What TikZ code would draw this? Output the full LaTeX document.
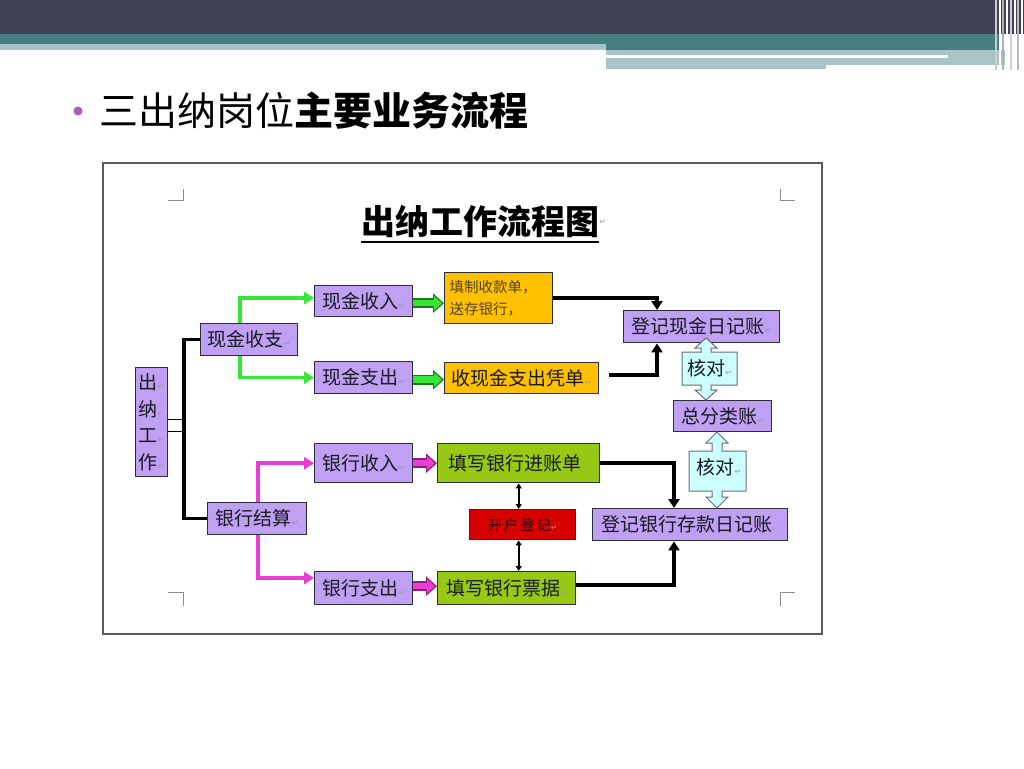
\documentclass[tikz,border=0pt]{standalone}
\usepackage{fontspec}
\setmainfont{Noto Sans CJK SC}
\newfontfamily\dejavu{DejaVu Sans}
\usetikzlibrary{arrows.meta,calc}
\definecolor{darkbar}{RGB}{66,66,86}
\definecolor{tealc}{RGB}{69,127,130}
\definecolor{lightc}{RGB}{168,196,198}
\definecolor{bulletc}{RGB}{166,95,180}
\definecolor{purp}{RGB}{192,160,242}
\definecolor{yel}{RGB}{255,192,0}
\definecolor{grn}{RGB}{150,200,20}
\definecolor{redc}{RGB}{214,0,0}
\definecolor{cyanc}{RGB}{204,255,255}
\definecolor{bord}{RGB}{45,45,60}
\definecolor{txt}{RGB}{25,25,35}
\definecolor{gline}{RGB}{55,230,55}
\definecolor{gdark}{RGB}{30,120,30}
\definecolor{mline}{RGB}{235,60,215}
\definecolor{mdark}{RGB}{140,30,130}
\definecolor{retgray}{RGB}{160,150,170}
\definecolor{framec}{RGB}{90,90,90}
\definecolor{cornerc}{RGB}{140,140,140}
\newcommand\retmark{{\dejavu\fontsize{8}{8}\selectfont\color{retgray}↵}}
\newcommand\bxfont{\fontsize{19}{22}\selectfont}
\tikzset{
  pbox/.style={draw=bord, line width=1.4pt, fill=purp, inner sep=0pt, anchor=north west, font=\bxfont, text=txt},
  ybox/.style={pbox, fill=yel},
  gbox/.style={pbox, fill=grn},
  rbox/.style={pbox, fill=redc},
  blk/.style={line width=3.5pt, black},
  barr/.style={line width=3.5pt, black, -{Triangle[length=9pt,width=11pt]}},
  garr/.style={line width=3.5pt, gline, -{Triangle[length=10pt,width=12pt]}},
  marr/.style={line width=3.5pt, mline, -{Triangle[length=10pt,width=12pt]}},
  fatgo/.style={line width=10pt, gdark, -{Triangle[length=11pt,width=19pt]}},
  fatgi/.style={line width=6.5pt, gline, shorten >=2pt, -{Triangle[length=8pt,width=14pt]}},
  fatmo/.style={line width=10pt, mdark, -{Triangle[length=11pt,width=19pt]}},
  fatmi/.style={line width=6.5pt, mline, shorten >=2pt, -{Triangle[length=8pt,width=14pt]}},
  dbl/.style={line width=2pt, black, {Triangle[length=5pt,width=6pt]}-{Triangle[length=5pt,width=6pt]}},
  cyanshape/.style={fill=cyanc, draw=bord!70, line width=1pt},
  corner/.style={cornerc, line width=1pt},
}
\begin{document}
\begin{tikzpicture}[x=1pt,y=-1pt]
\useasboundingbox (0,0) rectangle (1024,768);
\fill[white] (0,0) rectangle (1024,768);
% header bands
\fill[darkbar] (0,0) rectangle (1024,34);
\fill[tealc] (0,34) rectangle (606,44);
\fill[lightc] (0,44) rectangle (606,50);
\fill[tealc] (606,34) rectangle (1000,50);
\fill[lightc] (606,50) rectangle (1000,69);
\fill[white] (606,55) rectangle (948,58);
\fill[white] (826,65) rectangle (1000,70);
\fill[lightc] (948,50) rectangle (1005,65);
\foreach \xx/\cc in {995/gray!40,999/white,1002/gray!60,1006/white,1010/gray!35,1014/white,1017/gray!55,1021/white}
  \fill[\cc] (\xx,0) rectangle ++(2,70);
% title
\fill[bulletc] (78,111) circle (4.5);
\node[anchor=west, inner sep=0pt, font=\fontsize{39}{44}\selectfont, text=black] (heading) at (99,111) {三出纳岗位\textbf{主要业务流程}};
% frame
\draw[framec, line width=1.6pt] (103,163) rectangle (822,634);
\draw[corner] (168,200) -- (183,200) -- (183,189);
\draw[corner] (780,189) -- (780,200) -- (795,200);
\draw[corner] (168,592) -- (183,592) -- (183,606);
\draw[corner] (795,592) -- (780,592) -- (780,606);
% diagram title
\node[inner sep=0pt, font=\fontsize{34}{38}\selectfont\bfseries, text=black] (dtitle) at (480,222) {出纳工作流程图};
\draw[black, line width=2pt] (dtitle.south west) ++(0,4) -- ($(dtitle.south east)+(0,4)$);
\node[anchor=west, inner sep=0pt] (dret) at (dtitle.east) {\retmark};
% boxes
\node[pbox, minimum width=32pt, minimum height=109pt, align=center, font=\fontsize{19}{26.5}\selectfont] (chuna) at (135,367) {出\retmark\\纳\retmark\\工\retmark\\作\retmark};
\node[pbox, minimum width=97pt, minimum height=32pt] (xjsz) at (200,323) {现金收支\retmark};
\node[pbox, minimum width=99pt, minimum height=32pt] (yhjs) at (207,502) {银行结算\retmark};
\node[pbox, minimum width=98pt, minimum height=31pt] (xjsr) at (314,285) {现金收入\retmark};
\node[pbox, minimum width=98pt, minimum height=32pt] (xjzc) at (314,361) {现金支出\retmark};
\node[pbox, minimum width=98pt, minimum height=39pt] (yhsr) at (314,443) {银行收入\retmark};
\node[pbox, minimum width=98pt, minimum height=33pt] (yhzc) at (314,571) {银行支出\retmark};
\node[ybox, minimum width=108pt, minimum height=51pt, align=left, text width=98pt, inner xsep=5pt, font=\fontsize{14.5}{22}\selectfont, text=txt!75!yel] (tzsk) at (444,272) {填制收款单，\\送存银行，};
\node[ybox, minimum width=154pt, minimum height=31pt] (sxzc) at (444,362) {收现金支出凭单\retmark};
\node[gbox, minimum width=162pt, minimum height=39pt] (txjz) at (437,443) {填写银行进账单\retmark};
\node[rbox, minimum width=106pt, minimum height=30pt, font=\fontsize{14}{16}\selectfont, text=black!85!redc] (khdj) at (469,509) {开\,户\,登\,记\retmark};
\node[gbox, minimum width=138pt, minimum height=33pt] (txpj) at (437,571) {填写银行票据\retmark};
\node[pbox, minimum width=156pt, minimum height=32pt] (djxj) at (623,310) {登记现金日记账\retmark};
\node[pbox, minimum width=98pt, minimum height=31pt] (zfl) at (673,400) {总分类账\retmark};
\node[pbox, minimum width=195pt, minimum height=32pt] (djyh) at (592,508) {登记银行存款日记账\retmark};
% cyan double arrows (核对)
\draw[cyanshape] (706,338) -- (717,348) -- (711,348) -- (711,352) -- (737,352) -- (737,385) -- (711,385) -- (711,390) -- (717,390) -- (706,400) -- (695,390) -- (701,390) -- (701,385) -- (682,385) -- (682,352) -- (701,352) -- (701,348) -- (695,348) -- cycle;
\node[inner sep=0pt, font=\bxfont, text=txt] (hd1) at (710,368) {核对\retmark};
\draw[cyanshape] (717,432) -- (728,443) -- (722,443) -- (722,451) -- (746,451) -- (746,491) -- (722,491) -- (722,497) -- (728,497) -- (717,508) -- (706,497) -- (712,497) -- (712,491) -- (689,491) -- (689,451) -- (712,451) -- (712,443) -- (706,443) -- cycle;
\node[inner sep=0pt, font=\bxfont, text=txt] (hd2) at (719,467) {核对\retmark};
% black bracket
\draw[blk] (xjsz.west) -- ++(-16,0) |- (yhjs.west);
\draw[black, line width=1pt] ($(chuna.north east)+(0,52)$) -- ++(17,0);
\draw[black, line width=1pt] ($(chuna.north east)+(0,64)$) -- ++(17,0);
% green / magenta branch arrows
\draw[garr] ($(xjsz.north west)+(40,0)$) |- ($(xjsr.north west)+(0,13)$);
\draw[garr] ($(xjsz.south west)+(40,0)$) |- (xjzc.west);
\draw[marr] ($(yhjs.north west)+(51,0)$) |- (yhsr.west);
\draw[marr] ($(yhjs.south west)+(51,0)$) |- ($(yhzc.north west)+(0,7)$);
% fat arrows
\draw[fatgo] ($(xjsr.east)+(0,2)$) -- ($(xjsr.east -| tzsk.west)+(0,2)$);
\draw[fatgi] ($(xjsr.east)+(0,2)$) -- ($(xjsr.east -| tzsk.west)+(0,2)$);
\draw[fatgo] ($(xjzc.east)+(0,2)$) -- ($(xjzc.east -| sxzc.west)+(0,2)$);
\draw[fatgi] ($(xjzc.east)+(0,2)$) -- ($(xjzc.east -| sxzc.west)+(0,2)$);
\draw[fatmo] (yhsr.east) -- (yhsr.east -| txjz.west);
\draw[fatmi] (yhsr.east) -- (yhsr.east -| txjz.west);
\draw[fatmo] ($(yhzc.east)+(0,-2)$) -- ($(yhzc.east -| txpj.west)+(0,-2)$);
\draw[fatmi] ($(yhzc.east)+(0,-2)$) -- ($(yhzc.east -| txpj.west)+(0,-2)$);
% black arrows to journals
\draw[barr] (tzsk.east) -| ($(djxj.north west)+(34,0)$);
\draw[barr, shorten <=10pt] ($(sxzc.east)+(0,-3)$) -| ($(djxj.south west)+(34,0)$);
\draw[barr] (txjz.east) -| ($(djyh.north west)+(82,0)$);
\draw[barr] ($(txpj.east)+(0,-3)$) -| ($(djyh.south west)+(82,0)$);
% double arrows to 开户登记
\draw[dbl] (txjz.south) -- (txjz.south |- khdj.north);
\draw[dbl] (txjz.south |- khdj.south) -- (txjz.south |- txpj.north);
\end{tikzpicture}
\end{document}
